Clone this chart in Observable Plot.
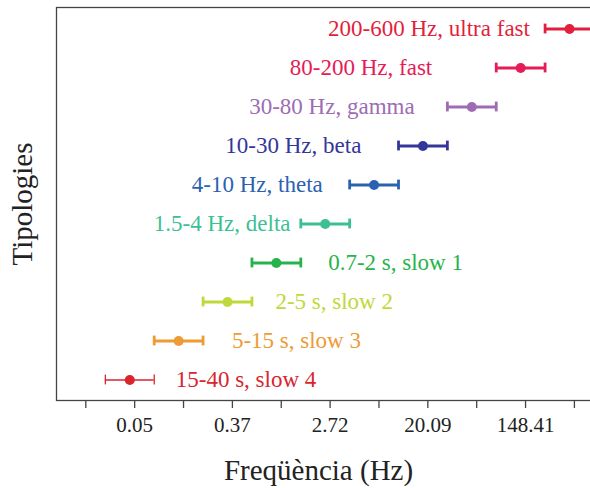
<!DOCTYPE html>
<html>
<head>
<meta charset="utf-8">
<script src="https://cdn.jsdelivr.net/npm/d3@7"></script>
<script src="https://cdn.jsdelivr.net/npm/@observablehq/plot@0.6"></script>
<style>
  body { margin: 0; background: #fff; }
  #wrap { width: 590px; height: 488px; overflow: hidden; }
  #wrap svg { max-width: none !important; font-family: "Liberation Serif", "DejaVu Serif", serif !important; }
  #wrap svg text { font-family: "Liberation Serif", "DejaVu Serif", serif !important; }
</style>
</head>
<body>
<div id="wrap"></div>
<script>
// Oscillation classes, top to bottom
const categories = [
  "200-600 Hz, ultra fast",
  "80-200 Hz, fast",
  "30-80 Hz, gamma",
  "10-30 Hz, beta",
  "4-10 Hz, theta",
  "1.5-4 Hz, delta",
  "0.7-2 s, slow 1",
  "2-5 s, slow 2",
  "5-15 s, slow 3",
  "15-40 s, slow 4"
];
// natural-log frequency (ln Hz): centre and error-bar ends
const centre = [5.9, 4.9, 3.9, 2.9, 1.9, 0.9, -0.1, -1.1, -2.1, -3.1];
const low    = [5.4, 4.4, 3.4, 2.4, 1.4, 0.4, -0.6, -1.6, -2.6, -3.6];
const high   = [6.4, 5.4, 4.4, 3.4, 2.4, 1.4, 0.4, -0.6, -1.6, -2.6];
// label anchor (ln Hz) and which side of the bar it sits on
const labelAt   = [5.09, 3.09, 2.73, 1.64, 0.85, 0.19, 0.96, -0.12, -1.01, -2.16];
const labelSide = ["left", "left", "left", "left", "left", "left", "right", "right", "right", "right"];
const colours = ["#e21f3c", "#e61b58", "#9d6cb4", "#34369a", "#2a62b0",
                 "#3dbf96", "#27b34b", "#c1d83b", "#ee9b35", "#d8252e"];
// x ticks at integer ln values
const tickValues = [-4, -3, -2, -1, 0, 1, 2, 3, 4, 5, 6];

const rows = categories.map((name, i) => ({
  name, centre: centre[i], low: low[i], high: high[i],
  labelAt: labelAt[i], side: labelSide[i]
}));

const serif = "'Liberation Serif', 'DejaVu Serif', serif";
const thin = categories[9];
const sw = d => d.name === thin ? 1.3 : 2.8;
const capInset = 14.6;

const chart = Plot.plot({
  width: 600,
  height: 488,
  marginLeft: 56,
  marginRight: 0,
  marginTop: 7,
  marginBottom: 88,
  style: { fontFamily: serif, fontSize: "21px", color: "#222", background: "#fff", maxWidth: "none" },
  x: { domain: [-4.6, 6.534] },
  y: { type: "band", domain: categories, padding: 0, axis: null },
  color: { domain: categories, range: colours },
  marks: [
    Plot.frame({ stroke: "#444", strokeWidth: 1.3 }),
    Plot.ruleY(rows, { y: "name", x1: "low", x2: "high", stroke: "name", strokeWidth: sw }),
    Plot.tickX(rows, { x: "low", y: "name", stroke: "name", strokeWidth: sw, insetTop: capInset, insetBottom: capInset }),
    Plot.tickX(rows, { x: "high", y: "name", stroke: "name", strokeWidth: sw, insetTop: capInset, insetBottom: capInset }),
    Plot.dot(rows, { x: "centre", y: "name", fill: "name", r: 5 }),
    Plot.text(rows.filter(d => d.side === "left"), {
      x: "labelAt", y: "name", text: "name", fill: "name",
      textAnchor: "end", fontSize: 23, fontFamily: serif
    }),
    Plot.text(rows.filter(d => d.side === "right"), {
      x: "labelAt", y: "name", text: "name", fill: "name",
      textAnchor: "start", fontSize: 23, fontFamily: serif
    }),
    Plot.axisX({
      ticks: tickValues,
      tickSize: 8,
      tickPadding: 9,
      tickFormat: d => (d % 2 ? Math.exp(d).toFixed(2) : ""),
      label: null,
      stroke: "#444",
      strokeWidth: 1.3,
      fill: "#222",
      fontSize: 21,
      fontFamily: serif
    }),
    Plot.text(["Freqüència (Hz)"], {
      frameAnchor: "bottom", text: d => d, dx: -10, dy: 79,
      textAnchor: "middle", lineAnchor: "bottom", fontSize: 29, fill: "#222", fontFamily: serif
    }),
    Plot.text(["Tipologies"], {
      frameAnchor: "left", text: d => d, rotate: -90, dx: -25,
      textAnchor: "middle", lineAnchor: "bottom", fontSize: 29, fill: "#222", fontFamily: serif
    })
  ]
});

document.getElementById("wrap").appendChild(chart);
</script>
</body>
</html>
